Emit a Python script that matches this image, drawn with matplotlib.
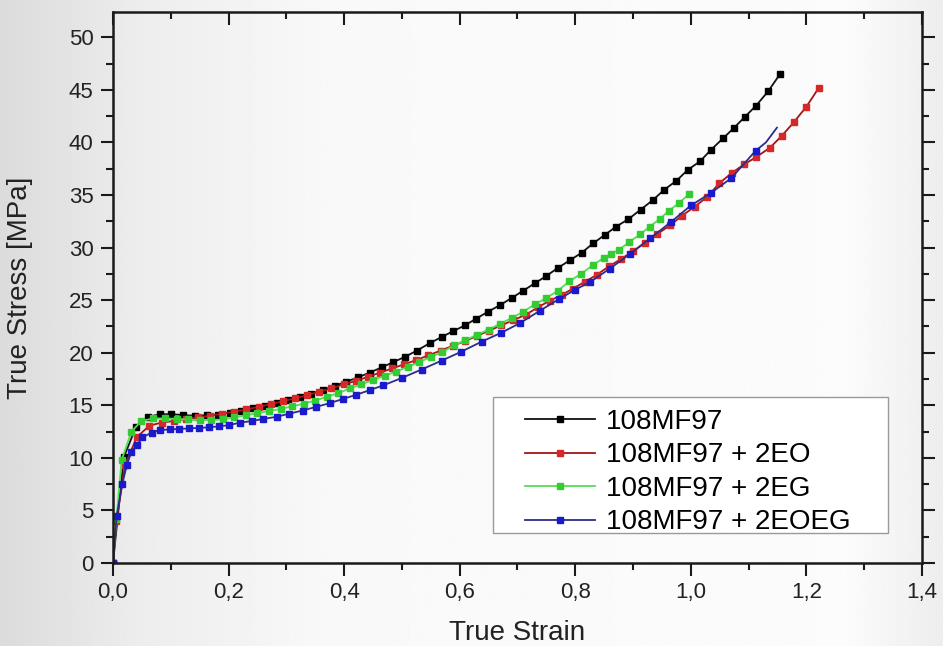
import numpy as np
import matplotlib
matplotlib.use("Agg")
import matplotlib.pyplot as plt
from matplotlib.ticker import MultipleLocator, FormatStrFormatter, FuncFormatter
from matplotlib.patches import Rectangle

plt.rcParams["font.family"] = ["Liberation Sans", "DejaVu Sans"]

labels = ["108MF97", "108MF97 + 2EO", "108MF97 + 2EG", "108MF97 + 2EOEG"]

strain_base = [0.0, 0.019, 0.040, 0.061, 0.081, 0.101, 0.122, 0.142, 0.162, 0.182,
               0.202, 0.222, 0.242, 0.263, 0.283, 0.303, 0.323, 0.343, 0.363, 0.384,
               0.404, 0.424, 0.444, 0.465, 0.485, 0.505, 0.526, 0.548, 0.569, 0.589,
               0.609, 0.629, 0.649, 0.669, 0.690, 0.710, 0.730, 0.750, 0.771, 0.791,
               0.811, 0.831, 0.851, 0.871, 0.892, 0.913, 0.934, 0.954, 0.975, 0.995,
               1.016, 1.035, 1.056, 1.075, 1.093, 1.113, 1.134, 1.155]
stress_base = [0.0, 10.1, 12.96, 13.9, 14.15, 14.15, 14.07, 14.0, 14.05, 14.1,
               14.3, 14.5, 14.7, 14.95, 15.2, 15.5, 15.8, 16.1, 16.45, 16.85,
               17.25, 17.65, 18.1, 18.6, 19.1, 19.6, 20.2, 20.9, 21.5, 22.05,
               22.6, 23.25, 23.9, 24.5, 25.2, 25.9, 26.6, 27.3, 28.1, 28.8,
               29.5, 30.4, 31.2, 32.0, 32.7, 33.6, 34.5, 35.5, 36.35, 37.4,
               38.2, 39.3, 40.4, 41.4, 42.4, 43.5, 44.87, 46.55]

strain_eo = [0.0, 0.006, 0.021, 0.041, 0.063, 0.084, 0.105, 0.126, 0.147, 0.168,
             0.189, 0.210, 0.231, 0.252, 0.273, 0.294, 0.315, 0.336, 0.357, 0.378,
             0.399, 0.420, 0.441, 0.462, 0.483, 0.504, 0.525, 0.546, 0.567, 0.588,
             0.609, 0.630, 0.651, 0.672, 0.693, 0.714, 0.735, 0.756, 0.777, 0.796,
             0.817, 0.837, 0.858, 0.879, 0.900, 0.921, 0.942, 0.964, 0.984, 1.007,
             1.028, 1.049, 1.071, 1.092, 1.113, 1.137, 1.157, 1.178, 1.200, 1.221]
stress_eo = [0.0, 4.0, 9.3, 11.95, 13.06, 13.35, 13.5, 13.7, 13.85, 14.0,
             14.2, 14.4, 14.6, 14.85, 15.1, 15.4, 15.65, 15.95, 16.3, 16.6,
             17.0, 17.3, 17.7, 18.1, 18.5, 18.9, 19.3, 19.75, 20.2, 20.65,
             21.1, 21.6, 22.1, 22.6, 23.1, 23.6, 24.3, 24.95, 25.5, 26.1,
             26.75, 27.4, 28.2, 28.9, 29.65, 30.45, 31.3, 32.1, 33.0, 33.9,
             34.8, 36.1, 37.1, 37.9, 38.6, 39.5, 40.6, 41.9, 43.4, 45.15]

strain_eg = [0.0, 0.006, 0.015, 0.032, 0.049, 0.070, 0.090, 0.110, 0.130, 0.150,
             0.170, 0.190, 0.210, 0.230, 0.250, 0.270, 0.290, 0.310, 0.330, 0.350,
             0.370, 0.390, 0.410, 0.430, 0.450, 0.470, 0.490, 0.510, 0.530, 0.550,
             0.570, 0.590, 0.610, 0.630, 0.650, 0.670, 0.690, 0.710, 0.730, 0.750,
             0.770, 0.790, 0.810, 0.830, 0.850, 0.862, 0.876, 0.893, 0.912, 0.929,
             0.946, 0.962, 0.980, 0.997]
stress_eg = [0.0, 4.2, 9.8, 12.5, 13.5, 13.75, 13.75, 13.7, 13.65, 13.6,
             13.6, 13.65, 13.85, 14.05, 14.25, 14.45, 14.65, 14.9, 15.15, 15.45,
             15.8, 16.15, 16.6, 17.0, 17.4, 17.8, 18.2, 18.65, 19.1, 19.6,
             20.05, 20.7, 21.2, 21.7, 22.2, 22.75, 23.3, 23.9, 24.6, 25.2,
             25.9, 26.8, 27.5, 28.3, 29.05, 29.4, 29.8, 30.5, 31.25, 32.0,
             32.7, 33.5, 34.25, 35.1]

strain_eoeg = [0.0, 0.0064, 0.016, 0.024, 0.032, 0.041, 0.051, 0.067, 0.081, 0.098,
               0.115, 0.132, 0.149, 0.166, 0.183, 0.200, 0.220, 0.240, 0.260, 0.283,
               0.305, 0.328, 0.352, 0.375, 0.398, 0.421, 0.445, 0.468, 0.500, 0.534,
               0.569, 0.603, 0.638, 0.672, 0.704, 0.739, 0.772, 0.800, 0.825, 0.860,
               0.895, 0.930, 0.965, 1.000, 1.035, 1.070, 1.112, 1.130, 1.149]
stress_eoeg = [0.0, 4.47, 7.5, 9.3, 10.6, 11.2, 11.95, 12.4, 12.64, 12.7,
               12.75, 12.8, 12.85, 12.9, 13.0, 13.1, 13.35, 13.5, 13.7, 13.9,
               14.2, 14.5, 14.85, 15.2, 15.6, 16.0, 16.45, 16.9, 17.6, 18.4,
               19.25, 20.1, 21.05, 21.9, 22.8, 24.0, 25.1, 26.0, 26.7, 28.0,
               29.4, 30.9, 32.4, 34.0, 35.2, 36.6, 39.2, 40.0, 41.4]

series = [
    (strain_base, stress_base, "#111111", "#000000"),
    (strain_eo, stress_eo, "#a31515", "#d62828"),
    (strain_eg, stress_eg, "#55dd55", "#33cc33"),
    (strain_eoeg, stress_eoeg, "#2c2c8a", "#1a1acc"),
]

fig = plt.figure(figsize=(9.43, 6.46), dpi=100)

# slide-like gray gradient background
bg = fig.add_axes([0, 0, 1, 1], zorder=-10)
grad = np.interp(np.linspace(0, 1, 400), [0, 0.15, 0.35, 0.9, 1.0],
                 [0.86, 0.93, 0.975, 0.985, 0.93])
bg.imshow(grad[None, :], aspect="auto", cmap="gray", vmin=0, vmax=1,
          extent=[0, 1, 0, 1])
bg.axis("off")

ax = fig.add_axes([0.1198, 0.1285, 0.8579, 0.8529])
ax.set_facecolor("none")

for (x, y, lc, mc), lab in zip(series, labels):
    me = slice(0, len(x) - 2) if lab.endswith("2EOEG") else None
    ax.plot(x, y, "-", color=lc, lw=1.3, marker="s", ms=5,
            mfc=mc, mec=mc, markevery=me, label=lab)

ax.set_xlim(0, 1.4)
ax.set_ylim(0, 52.4)
ax.xaxis.set_major_locator(MultipleLocator(0.2))
ax.xaxis.set_minor_locator(MultipleLocator(0.1))
ax.yaxis.set_major_locator(MultipleLocator(5))
ax.yaxis.set_minor_locator(MultipleLocator(2.5))
ax.xaxis.set_major_formatter(FuncFormatter(lambda v, p: ("%.1f" % v).replace(".", ",")))
ax.yaxis.set_major_formatter(FormatStrFormatter("%d"))

for s in ax.spines.values():
    s.set_linewidth(1.8)
    s.set_color("#1a1a1a")
ax.tick_params(which="both", direction="out", width=1.5, colors="#1a1a1a",
               labelsize=16, labelcolor="#222222")
ax.tick_params(which="major", length=9, pad=5)
ax.tick_params(which="minor", length=5)
ax.tick_params(which="both", top=True, right=True)

ax.set_xlabel("True Strain", fontsize=20, color="#222222", labelpad=12)
ax.set_ylabel("True Stress [MPa]", fontsize=20, color="#222222", labelpad=26)

# top/right mirrored ticks point inward
for t in ax.xaxis.get_ticklines(minor=False)[1::2] + ax.xaxis.get_ticklines(minor=True)[1::2]:
    t.set_marker(3)
for t in ax.yaxis.get_ticklines(minor=False)[1::2] + ax.yaxis.get_ticklines(minor=True)[1::2]:
    t.set_marker(1)

ax.add_patch(Rectangle((0.47, 0.054), 0.488, 0.247, transform=ax.transAxes,
                       facecolor="white", edgecolor="#9a9a9a", lw=1.0, zorder=5))
leg = ax.legend(loc="upper left", bbox_to_anchor=(0.503, 0.29), frameon=False,
                fontsize=20, handlelength=2.5, handletextpad=0.4,
                labelspacing=0.27, borderpad=0.2, borderaxespad=0)
leg.set_zorder(6)

fig.savefig("out.png", dpi=100)
